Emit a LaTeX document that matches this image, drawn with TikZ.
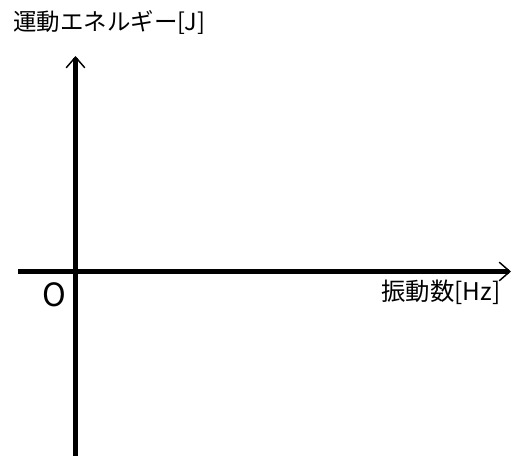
\documentclass[tikz,border=0pt]{standalone}
\usepackage{fontspec}
\setmainfont{Noto Sans CJK JP}
\usetikzlibrary{arrows.meta}
\tikzset{
  axis/.style={line width=3.2pt, -{Straight Barb[length=8pt,width=14pt,line width=1.1pt]}},
  lbl/.style={inner sep=0pt},
}
\begin{document}
\begin{tikzpicture}[x=0.75pt,y=-0.75pt]
\useasboundingbox (0,0) rectangle (513,455);
\coordinate (ybot) at (75.5,458);
\coordinate (ytop) at (75.5,56);
\coordinate (xl) at (18,271.5);
\coordinate (xr) at (511,271.5);
\draw[axis] (ybot) -- (ytop);
\draw[axis] (xl) -- (xr);
\node[lbl, anchor=west, font=\fontsize{17.6pt}{20pt}\selectfont] (ylab) at (13,22.5) {運動エネルギー[J]};
\node[lbl, anchor=west, font=\fontsize{18.3pt}{20pt}\selectfont] (xlab) at (381,292.5) {振動数[Hz]};
\node[inner sep=0pt, font=\fontsize{24pt}{26pt}\selectfont] (o) at (54,294.5) {O};
\end{tikzpicture}
\end{document}
